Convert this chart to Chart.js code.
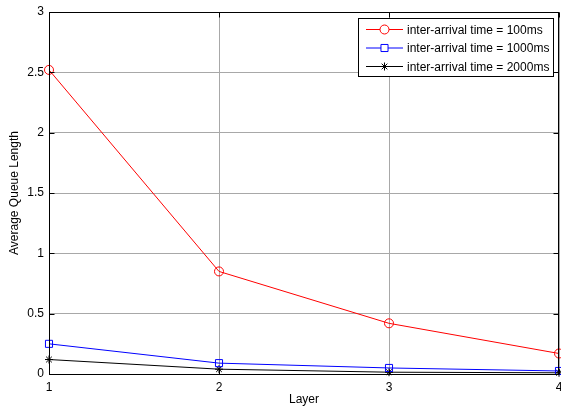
<!DOCTYPE html>
<html>
<head>
<meta charset="utf-8">
<script src="https://cdn.jsdelivr.net/npm/chart.js@4"></script>
<style>
  html, body { margin: 0; padding: 0; background: #fff; }
  #wrap { width: 561px; height: 409px; }
</style>
</head>
<body>
<div id="wrap"><canvas id="myChart"></canvas></div>
<script>
// dane
const layers = [1, 2, 3, 4];
const q100 = [2.52, 0.85, 0.42, 0.17];
const q1000 = [0.25, 0.09, 0.05, 0.025];
const q2000 = [0.12, 0.04, 0.015, 0.01];
const yTicks = [0, 0.5, 1, 1.5, 2, 2.5, 3];

const FONT = '"Liberation Sans", Arial, sans-serif';
const toPts = (vals) => vals.map((v, i) => ({ x: layers[i], y: v }));

// ramka wokol obszaru wykresu, kreski podzialki do srodka i legenda
const boxAndLegend = {
  id: 'boxAndLegend',
  afterDatasetsDraw(chart) {
    const ctx = chart.ctx;
    const a = chart.chartArea;
    const L = Math.round(a.left) + 0.5, R = Math.round(a.right) - 0.5;
    const T = Math.round(a.top) + 0.5, B = Math.round(a.bottom) + 0.5;
    ctx.save();
    ctx.strokeStyle = '#000';
    ctx.lineWidth = 1;
    ctx.strokeRect(L, T, R - L, B - T);

    // kreski podzialki
    ctx.beginPath();
    chart.scales.y.ticks.forEach(t => {
      const y = Math.round(chart.scales.y.getPixelForValue(t.value)) + 0.5;
      ctx.moveTo(L, y); ctx.lineTo(L + 5, y);
      ctx.moveTo(R, y); ctx.lineTo(R - 5, y);
    });
    chart.scales.x.ticks.forEach(t => {
      const x = Math.round(chart.scales.x.getPixelForValue(t.value)) + 0.5;
      ctx.moveTo(x, B); ctx.lineTo(x, B - 5);
      ctx.moveTo(x, T); ctx.lineTo(x, T + 5);
    });
    ctx.stroke();

    // legenda
    const lx = 358, ly = 18, lw = 195, lh = 58;
    ctx.fillStyle = '#fff';
    ctx.fillRect(lx, ly, lw, lh);
    ctx.strokeRect(lx + 0.5, ly + 0.5, lw, lh);
    ctx.font = '12px ' + FONT;
    ctx.textBaseline = 'middle';
    chart.data.datasets.forEach((ds, i) => {
      const y = ly + 11.5 + i * 18.5;
      ctx.strokeStyle = ds.borderColor;
      ctx.beginPath();
      ctx.moveTo(lx + 8, y);
      ctx.lineTo(lx + 45, y);
      ctx.stroke();
      ctx.fillStyle = '#fff';
      Chart.helpers.drawPoint(ctx, {
        pointStyle: ds.pointStyle, radius: ds.pointRadius, borderWidth: 1
      }, lx + 26.5, y);
      ctx.fillStyle = '#000';
      ctx.fillText(ds.label, lx + 49, y + 1);
    });
    ctx.restore();
  }
};

const canvas = document.getElementById('myChart');
const chart = new Chart(canvas, {
  type: 'line',
  data: {
    datasets: [
      {
        label: 'inter-arrival time = 100ms',
        data: toPts(q100),
        borderColor: '#ff0000',
        backgroundColor: 'rgba(0,0,0,0)',
        pointBackgroundColor: 'rgba(0,0,0,0)',
        pointStyle: 'circle',
        pointRadius: 4.5,
        borderWidth: 1,
        clip: false
      },
      {
        label: 'inter-arrival time = 1000ms',
        data: toPts(q1000),
        borderColor: '#0000ff',
        backgroundColor: 'rgba(0,0,0,0)',
        pointBackgroundColor: 'rgba(0,0,0,0)',
        pointStyle: 'rect',
        pointRadius: 5,
        borderWidth: 1,
        clip: false
      },
      {
        label: 'inter-arrival time = 2000ms',
        data: toPts(q2000),
        borderColor: '#000000',
        backgroundColor: 'rgba(0,0,0,0)',
        pointBackgroundColor: 'rgba(0,0,0,0)',
        pointStyle: 'star',
        pointRadius: 4,
        borderWidth: 1,
        clip: false
      }
    ]
  },
  options: {
    responsive: true,
    maintainAspectRatio: false,
    animation: false,
    layout: { autoPadding: false, padding: { top: 12, right: 2, left: 0, bottom: 0 } },
    plugins: {
      legend: { display: false },
      tooltip: { enabled: false }
    },
    scales: {
      x: {
        type: 'linear',
        min: 1,
        max: 4,
        ticks: {
          stepSize: 1,
          color: '#000',
          padding: 6,
          font: { family: FONT, size: 12 }
        },
        grid: { color: '#a8a8a8', drawTicks: false },
        border: { color: '#000' },
        title: {
          display: true,
          text: 'Layer',
          color: '#000',
          padding: { top: 2, bottom: 2 },
          font: { family: FONT, size: 12 }
        },
        afterFit(scale) {
          scale.height = 35;
          scale.paddingLeft = 0;
          scale.paddingRight = 0;
        }
      },
      y: {
        min: 0,
        max: 3,
        afterBuildTicks(scale) { scale.ticks = yTicks.map(v => ({ value: v })); },
        ticks: {
          color: '#000',
          padding: 5,
          callback: (v) => String(v),
          font: { family: FONT, size: 12 }
        },
        grid: { color: '#a8a8a8', drawTicks: false },
        border: { color: '#000' },
        title: {
          display: true,
          text: 'Average Queue Length',
          color: '#000',
          padding: { top: 7, bottom: 0 },
          font: { family: FONT, size: 12 }
        },
        afterFit(scale) {
          scale.width = 49;
          scale.paddingTop = 0;
          scale.paddingBottom = 0;
        }
      }
    }
  },
  plugins: [boxAndLegend]
});
</script>
</body>
</html>
